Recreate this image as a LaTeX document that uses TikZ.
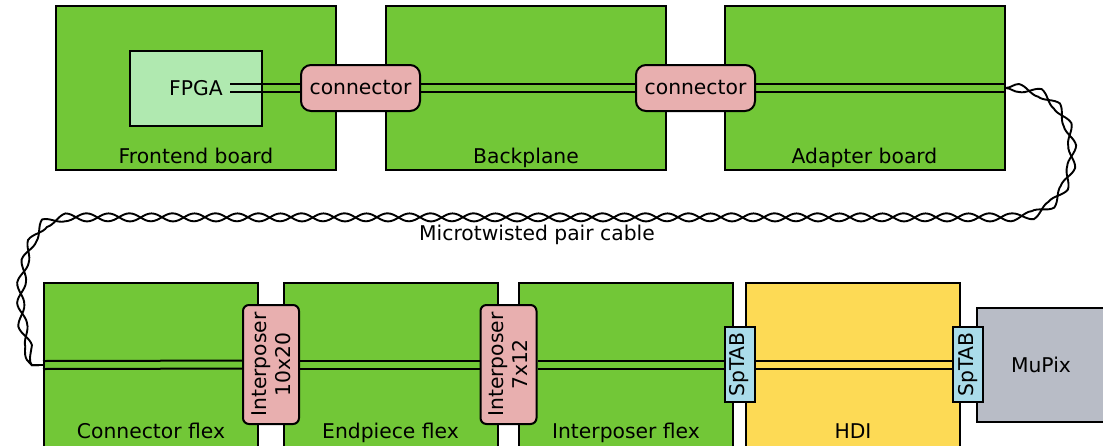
\documentclass[tikz,border=0pt]{standalone}
\usepackage{fontspec}
\setmainfont{DejaVu Sans}
\usetikzlibrary{decorations.pathmorphing}
\definecolor{boardgreen}{RGB}{114,199,55}
\definecolor{fpgagreen}{RGB}{176,233,176}
\definecolor{connpink}{RGB}{232,175,175}
\definecolor{tabblue}{RGB}{170,220,234}
\definecolor{hdiyellow}{RGB}{253,218,85}
\definecolor{mupixgrey}{RGB}{184,188,198}

\begin{document}
\begin{tikzpicture}[x=1pt, y=-1pt, line width=2pt,
    every node/.style={font=\fontsize{20.3}{24}\selectfont, inner sep=0pt},
    board/.style={draw, fill=boardgreen, minimum width=280pt, minimum height=164pt},
    flex/.style={draw, fill=boardgreen, minimum width=214pt, minimum height=164pt},
    chip/.style={draw, fill=fpgagreen, minimum width=132pt, minimum height=75pt},
    conn/.style={draw, fill=connpink, rounded corners=10pt, minimum width=119pt, minimum height=46pt},
    interp/.style={draw, fill=connpink, rounded corners=6pt, rotate=90, align=center,
        minimum width=119pt, minimum height=56pt},
    tab/.style={draw, fill=tabblue, rotate=90, minimum width=75pt, minimum height=30pt},
    lbl/.style={anchor=base},
    wire/.style={line width=2pt},
    twist/.style={line width=1.9pt, decorate,
        decoration={snake, amplitude=#1, segment length=43pt}}]
    \useasboundingbox (0,0) rectangle (1103,445);
    \clip (0,0) rectangle (1103,445);

    % top row
    \node[board] (frontend) at (196,88) {};
    \node[board] (backplane) at (526,88) {};
    \node[board] (adapter) at (864.5,88) {};
    \node[lbl] (frontendlbl) at ([yshift=8pt]frontend.south) {Frontend board};
    \node[lbl] (backplanelbl) at ([yshift=8pt]backplane.south) {Backplane};
    \node[lbl] (adapterlbl) at ([yshift=8pt]adapter.south) {Adapter board};
    \node[chip] (fpga) at (196,88.5) {FPGA};
    \coordinate (fpgaout) at (230,88);
    \node[conn] (conn1) at (360.5,88) {connector};
    \node[conn] (conn2) at (695.5,88) {connector};

    % bottom row
    \node[flex] (cflex) at (151,365) {};
    \node[flex] (epflex) at (390.5,365) {};
    \node[flex] (ipflex) at (626,365) {};
    \node[flex, fill=hdiyellow] (hdi) at (853,365) {};
    \node[draw, fill=mupixgrey, minimum width=128pt, minimum height=114pt] (mupix) at (1041,365) {MuPix};
    \node[lbl] (cflexlbl) at ([yshift=10pt]cflex.south) {Connector flex};
    \node[lbl] (epflexlbl) at ([yshift=10pt]epflex.south) {Endpiece flex};
    \node[lbl] (ipflexlbl) at ([yshift=10pt]ipflex.south) {Interposer flex};
    \node[lbl] (hdilbl) at ([yshift=10pt]hdi.south) {HDI};
    \node[interp] (ip1) at (271,364.5) {Interposer\\10x20};
    \node[interp] (ip2) at (508.5,364.5) {Interposer\\7x12};
    \node[tab] (tab1) at (739.5,364.5) {SpTAB};
    \node[tab] (tab2) at (968,364.5) {SpTAB};

    % differential pairs
    \foreach \s in {-4,4} {
        \begin{scope}[transform canvas={yshift=\s pt}]
            \draw[wire] (fpgaout) -- (conn1);
            \draw[wire] (conn1) -- (conn2);
            \draw[wire] (conn2) -- (adapter.east);
            \draw[wire] (cflex.west) -- (ip1);
            \draw[wire] (ip1) -- (ip2);
            \draw[wire] (ip2) -- (tab1);
            \draw[wire] (tab1) -- (tab2);
        \end{scope}
    }

    % cable
    \coordinate (bendR) at (1005,217);
    \coordinate (bendL) at (50,217);
    \foreach \a in {4pt,-4pt}
        \draw[twist=\a] (adapter.east) .. controls +(75,0) and +(75,0) .. (bendR)
            -- (bendL) .. controls +(-48,0) and +(-48,0) .. (cflex.west);
    \node (cablelbl) at (537,235) {Microtwisted pair cable};
\end{tikzpicture}
\end{document}
